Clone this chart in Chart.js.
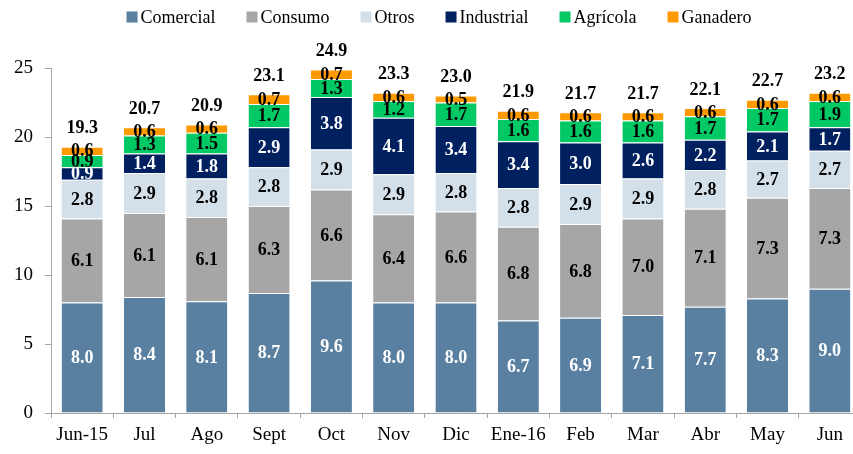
<!DOCTYPE html>
<html>
<head>
<meta charset="utf-8">
<script src="https://cdn.jsdelivr.net/npm/chart.js@4"></script>
<style>
  html, body { margin: 0; padding: 0; background: #fff; overflow: hidden; }
  #wrap { width: 853px; height: 454px; overflow: hidden; }
</style>
</head>
<body>
<div id="wrap"><canvas id="chart" width="861" height="454"></canvas></div>
<script>
var months = ["Jun-15", "Jul", "Ago", "Sept", "Oct", "Nov", "Dic", "Ene-16", "Feb", "Mar", "Abr", "May", "Jun"];
var comercial = [8.0, 8.4, 8.1, 8.7, 9.6, 8.0, 8.0, 6.7, 6.9, 7.1, 7.7, 8.3, 9.0];
var consumo = [6.1, 6.1, 6.1, 6.3, 6.6, 6.4, 6.6, 6.8, 6.8, 7.0, 7.1, 7.3, 7.3];
var otros = [2.8, 2.9, 2.8, 2.8, 2.9, 2.9, 2.8, 2.8, 2.9, 2.9, 2.8, 2.7, 2.7];
var industrial = [0.9, 1.4, 1.8, 2.9, 3.8, 4.1, 3.4, 3.4, 3.0, 2.6, 2.2, 2.1, 1.7];
var agricola = [0.9, 1.3, 1.5, 1.7, 1.3, 1.2, 1.7, 1.6, 1.6, 1.6, 1.7, 1.7, 1.9];
var ganadero = [0.6, 0.6, 0.6, 0.7, 0.7, 0.6, 0.5, 0.6, 0.6, 0.6, 0.6, 0.6, 0.6];
var totals = [19.3, 20.7, 20.9, 23.1, 24.9, 23.3, 23.0, 21.9, 21.7, 21.7, 22.1, 22.7, 23.2];
var yTicks = [0, 5, 10, 15, 20, 25];

var serif = "'Liberation Serif', 'DejaVu Serif', serif";

// segment values and totals on top of each bar
var labelPlugin = {
  id: 'labels',
  afterDatasetsDraw: function(chart) {
    var ctx = chart.ctx;
    ctx.save();
    ctx.font = "bold 18px " + serif;
    ctx.textAlign = 'center';
    ctx.textBaseline = 'middle';
    chart.data.datasets.forEach(function(ds, i) {
      var meta = chart.getDatasetMeta(i);
      meta.data.forEach(function(bar, j) {
        var mid = (bar.y + bar.base) / 2;
        ctx.fillStyle = ds.labelColor;
        ctx.fillText(ds.data[j].toFixed(1), bar.x, mid + 1);
      });
    });
    var last = chart.getDatasetMeta(chart.data.datasets.length - 1);
    ctx.fillStyle = '#000';
    last.data.forEach(function(bar, j) {
      ctx.fillText(totals[j].toFixed(1), bar.x, bar.y - 18);
    });
    ctx.restore();
  }
};

// legend row like the excel one: small square, text close to it
var legendPlugin = {
  id: 'rowLegend',
  afterDraw: function(chart) {
    var ctx = chart.ctx;
    var box = 11, gapText = 3, gapItem = 31;
    ctx.save();
    ctx.font = "18px " + serif;
    ctx.textBaseline = 'middle';
    ctx.textAlign = 'left';
    var items = chart.data.datasets.map(function(ds) {
      return { text: ds.label, color: ds.backgroundColor, w: ctx.measureText(ds.label).width };
    });
    var total = 0;
    items.forEach(function(it, i) {
      total += box + gapText + it.w + (i < items.length - 1 ? gapItem : 0);
    });
    var x = 439 - total / 2;
    var y = 17;
    items.forEach(function(it) {
      ctx.fillStyle = it.color;
      ctx.fillRect(x, y - box / 2, box, box);
      ctx.fillStyle = '#000';
      ctx.fillText(it.text, x + box + gapText, y + 1);
      x += box + gapText + it.w + gapItem;
    });
    ctx.restore();
  }
};

function series(label, data, color, labelColor) {
  return {
    label: label,
    data: data,
    backgroundColor: color,
    borderColor: '#ffffff',
    borderWidth: { top: 1, bottom: 0, left: 0, right: 0 },
    borderSkipped: false,
    labelColor: labelColor,
    barPercentage: 0.66,
    categoryPercentage: 1.0
  };
}

new Chart(document.getElementById('chart'), {
  type: 'bar',
  data: {
    labels: months,
    datasets: [
      series('Comercial', comercial, '#5a80a1', '#ffffff'),
      series('Consumo', consumo, '#a6a6a6', '#000000'),
      series('Otros', otros, '#d3e0ea', '#000000'),
      series('Industrial', industrial, '#002060', '#ffffff'),
      series('Agrícola', agricola, '#00c864', '#000000'),
      series('Ganadero', ganadero, '#ff9900', '#000000')
    ]
  },
  plugins: [labelPlugin, legendPlugin],
  options: {
    responsive: false,
    animation: false,
    layout: { padding: { top: 68, right: 0, left: 0, bottom: 0 } },
    plugins: {
      legend: { display: false },
      tooltip: { enabled: false }
    },
    scales: {
      x: {
        stacked: true,
        afterFit: function(axis) { axis.height = 41; },
        grid: { display: true, drawOnChartArea: false, offset: true, tickLength: 5, color: '#a6a6a6' },
        border: { color: '#a6a6a6', width: 1 },
        ticks: { font: { family: serif, size: 19 }, color: '#000', padding: 6, maxRotation: 0 }
      },
      y: {
        stacked: true,
        min: 0,
        max: 25,
        afterFit: function(axis) { axis.width = 51; },
        afterBuildTicks: function(axis) {
          axis.ticks = yTicks.map(function(v) { return { value: v }; });
        },
        grid: { display: true, drawOnChartArea: false, tickLength: 6, color: '#a6a6a6' },
        border: { color: '#a6a6a6', width: 1 },
        ticks: { font: { family: serif, size: 19 }, color: '#000', padding: 12 }
      }
    }
  }
});
</script>
</body>
</html>
